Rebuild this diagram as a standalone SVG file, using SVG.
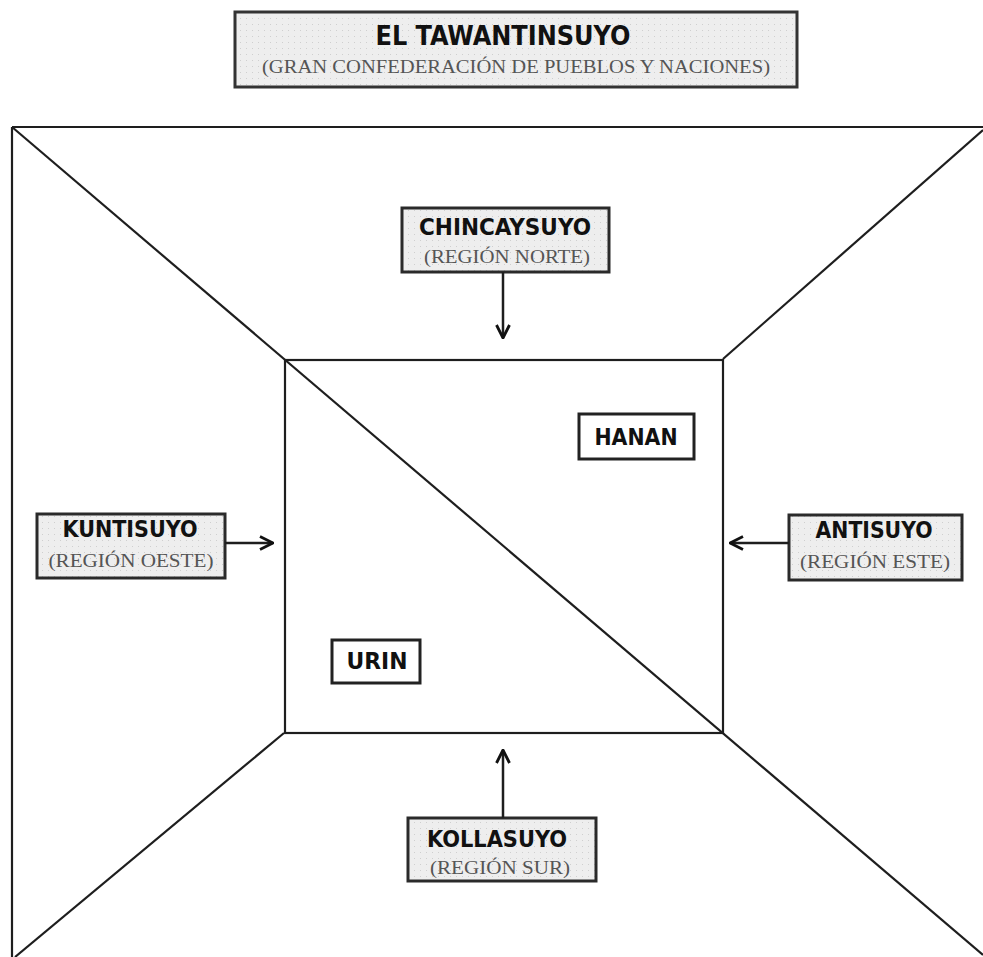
<svg xmlns="http://www.w3.org/2000/svg" width="983" height="957" viewBox="0 0 983 957">
<style>
.ln{stroke:#1e1e1e;stroke-width:2.2;fill:none}
.wbox{fill:#ffffff;stroke:#222;stroke-width:3}
.hd{font-family:"DejaVu Sans Condensed","DejaVu Sans",sans-serif;font-weight:bold;fill:#111;text-anchor:middle}
.sub{font-family:"Liberation Serif",serif;fill:#555;text-anchor:middle}
.arr{stroke:#1e1e1e;stroke-width:2.5;fill:none;marker-end:url(#ah)}
</style>
<defs>
<pattern id="dots" width="6" height="6" patternUnits="userSpaceOnUse">
<rect width="6" height="6" fill="#eeeeee"/>
<rect x="0" y="0" width="1" height="1" fill="#cfcfcf"/>
</pattern>
<marker id="ah" viewBox="0 0 16 16" refX="15" refY="8" markerWidth="16" markerHeight="16" markerUnits="userSpaceOnUse" orient="auto">
<path d="M2,1.5 L15,8 L2,14.5" fill="none" stroke="#111" stroke-width="2.8" stroke-linejoin="miter"/>
</marker>
</defs>
<rect width="983" height="957" fill="#ffffff"/>

<g id="frame">
<line class="ln" x1="12" y1="127" x2="983" y2="127"/>
<line class="ln" x1="12" y1="127" x2="12" y2="957"/>
<line class="ln" x1="12" y1="127" x2="983" y2="955"/>
<line class="ln" x1="983" y1="130" x2="723" y2="359"/>
<line class="ln" x1="284" y1="733" x2="15" y2="957"/>
<rect class="ln" x="285" y="360" width="438" height="373"/>
</g>

<g id="title">
<rect x="235" y="12" width="562" height="75" fill="url(#dots)" stroke="#333" stroke-width="3"/>
<text class="hd" x="503" y="45" font-size="27" textLength="255" lengthAdjust="spacingAndGlyphs">EL TAWANTINSUYO</text>
<text class="sub" x="516" y="73" font-size="19" textLength="508" lengthAdjust="spacingAndGlyphs">(GRAN CONFEDERACIÓN DE PUEBLOS Y NACIONES)</text>
</g>

<g id="chincaysuyo">
<rect x="402" y="208" width="207" height="64" fill="url(#dots)" stroke="#2a2a2a" stroke-width="3"/>
<text class="hd" x="505" y="235" font-size="23" textLength="172" lengthAdjust="spacingAndGlyphs">CHINCAYSUYO</text>
<text class="sub" x="507" y="263" font-size="18" textLength="166" lengthAdjust="spacingAndGlyphs">(REGIÓN NORTE)</text>
</g>

<g id="hanan">
<rect class="wbox" x="579" y="414" width="115" height="45"/>
<text class="hd" x="636" y="445" font-size="23" textLength="83" lengthAdjust="spacingAndGlyphs">HANAN</text>
</g>

<g id="kuntisuyo">
<rect x="37" y="514" width="188" height="64" fill="url(#dots)" stroke="#2a2a2a" stroke-width="3"/>
<text class="hd" x="130" y="537" font-size="23" textLength="135" lengthAdjust="spacingAndGlyphs">KUNTISUYO</text>
<text class="sub" x="131" y="567" font-size="18" textLength="165" lengthAdjust="spacingAndGlyphs">(REGIÓN OESTE)</text>
</g>

<g id="antisuyo">
<rect x="789" y="515" width="173" height="65" fill="url(#dots)" stroke="#2a2a2a" stroke-width="3"/>
<text class="hd" x="874" y="538" font-size="23" textLength="117" lengthAdjust="spacingAndGlyphs">ANTISUYO</text>
<text class="sub" x="875" y="568" font-size="18" textLength="150" lengthAdjust="spacingAndGlyphs">(REGIÓN ESTE)</text>
</g>

<g id="urin">
<rect class="wbox" x="332" y="640" width="88" height="43"/>
<text class="hd" x="377" y="669" font-size="23" textLength="61" lengthAdjust="spacingAndGlyphs">URIN</text>
</g>

<g id="kollasuyo">
<rect x="408" y="818" width="188" height="63" fill="url(#dots)" stroke="#2a2a2a" stroke-width="3"/>
<text class="hd" x="497" y="847" font-size="23" textLength="140" lengthAdjust="spacingAndGlyphs">KOLLASUYO</text>
<text class="sub" x="500" y="874" font-size="18" textLength="140" lengthAdjust="spacingAndGlyphs">(REGIÓN SUR)</text>
</g>

<g id="connectors">
<line class="arr" x1="503" y1="272" x2="503" y2="338"/>
<line class="arr" x1="225" y1="543" x2="273" y2="543"/>
<line class="arr" x1="789" y1="543" x2="730" y2="543"/>
<line class="arr" x1="503" y1="818" x2="503" y2="750"/>
</g>
</svg>
